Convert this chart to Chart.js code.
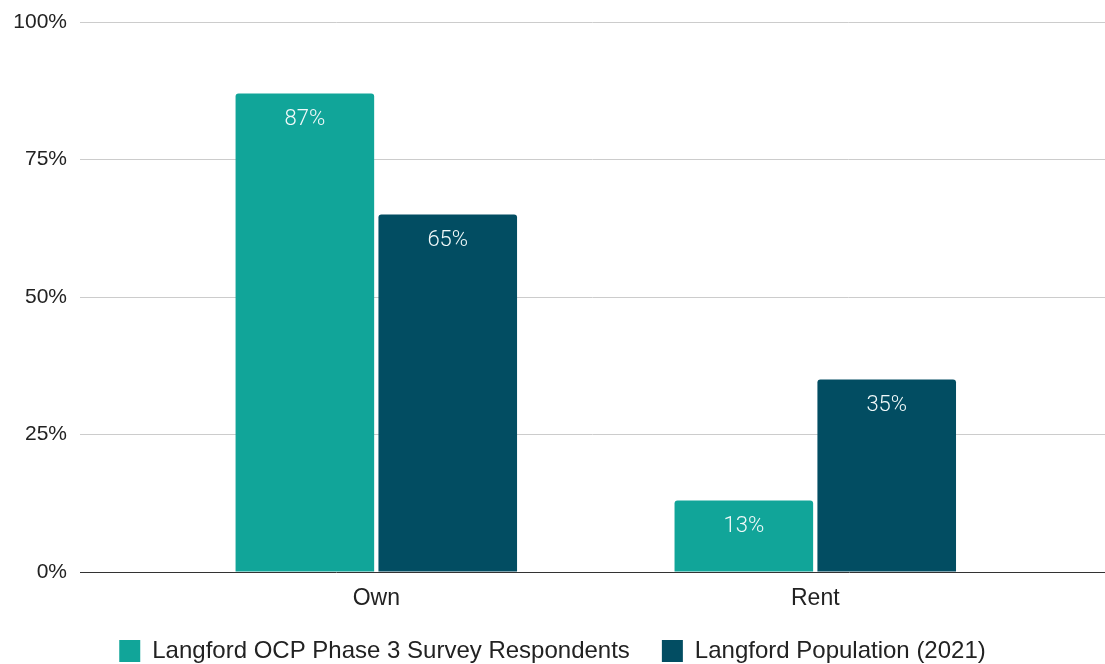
<!DOCTYPE html>
<html>
<head>
<meta charset="utf-8">
<script src="https://cdn.jsdelivr.net/npm/chart.js@4.4.1/dist/chart.umd.min.js"></script>
<style>
  html, body { margin: 0; padding: 0; background: #ffffff; }
  #wrap { width: 1105px; height: 664px; position: relative; }
</style>
</head>
<body>
<div id="wrap"><canvas id="c" width="1105" height="664"></canvas></div>
<script>
const categories = ['Own', 'Rent'];
const seriesNames = ['Langford OCP Phase 3 Survey Respondents', 'Langford Population (2021)'];
const respondents = [87, 13];
const population = [65, 35];
const yTicks = [0, 25, 50, 75, 100];
const colors = ['#11a599', '#024d62'];

const toPoints = arr => arr.map((v, i) => ({ x: i, y: v }));

const barLabels = {
  id: 'barLabels',
  afterDatasetsDraw(chart) {
    const ctx = chart.ctx;
    ctx.save();
    ctx.font = '300 22px Roboto';
    ctx.fillStyle = '#f2fafa';
    ctx.textAlign = 'center';
    ctx.textBaseline = 'middle';
    chart.data.datasets.forEach((ds, di) => {
      const meta = chart.getDatasetMeta(di);
      meta.data.forEach((bar, i) => {
        ctx.fillText(ds.data[i].y + '%', bar.x, bar.y + 26);
      });
    });
    ctx.restore();
  }
};

new Chart(document.getElementById('c'), {
  type: 'bar',
  data: {
    datasets: [
      { label: seriesNames[0], data: toPoints(respondents), backgroundColor: colors[0] },
      { label: seriesNames[1], data: toPoints(population), backgroundColor: colors[1] }
    ]
  },
  options: {
    responsive: false,
    animation: false,
    devicePixelRatio: 1,
    layout: { padding: { top: 22, right: 0, bottom: 0, left: 0 } },
    datasets: {
      bar: { categoryPercentage: 0.651, barPercentage: 0.97, borderRadius: 3 }
    },
    scales: {
      x: {
        type: 'linear',
        min: -0.675,
        max: 1.66,
        offset: false,
        grid: { display: false, drawTicks: false, offset: false },
        border: { display: true, color: '#333333', width: 1 },
        afterBuildTicks: s => { s.ticks = categories.map((c, i) => ({ value: i })); },
        afterFit: s => { s.height = 35; s.paddingLeft = 0; s.paddingRight = 0; },
        ticks: {
          callback: v => categories[v],
          autoSkip: false, maxRotation: 0,
          font: { family: 'Liberation Sans', size: 23 },
          color: '#222222',
          padding: 13
        }
      },
      y: {
        min: 0, max: 100,
        afterBuildTicks: s => { s.ticks = yTicks.map(v => ({ value: v })); },
        afterFit: s => { s.width = 80; s.paddingTop = 0; s.paddingBottom = 0; },
        grid: {
          drawTicks: false,
          color: c => (c.tick && c.tick.value === 0) ? 'rgba(0,0,0,0)' : '#cccccc',
          lineWidth: 1
        },
        border: { display: false },
        ticks: {
          callback: v => v + '%',
          font: { family: 'Liberation Sans', size: 21 },
          color: '#222222',
          padding: 13
        }
      }
    },
    plugins: {
      legend: {
        position: 'bottom',
        maxHeight: 57,
        labels: {
          boxWidth: 21, boxHeight: 22,
          padding: 32,
          font: { family: 'Liberation Sans', size: 24 },
          color: '#222222'
        }
      },
      tooltip: { enabled: false }
    }
  },
  plugins: [barLabels]
});
</script>
</body>
</html>
